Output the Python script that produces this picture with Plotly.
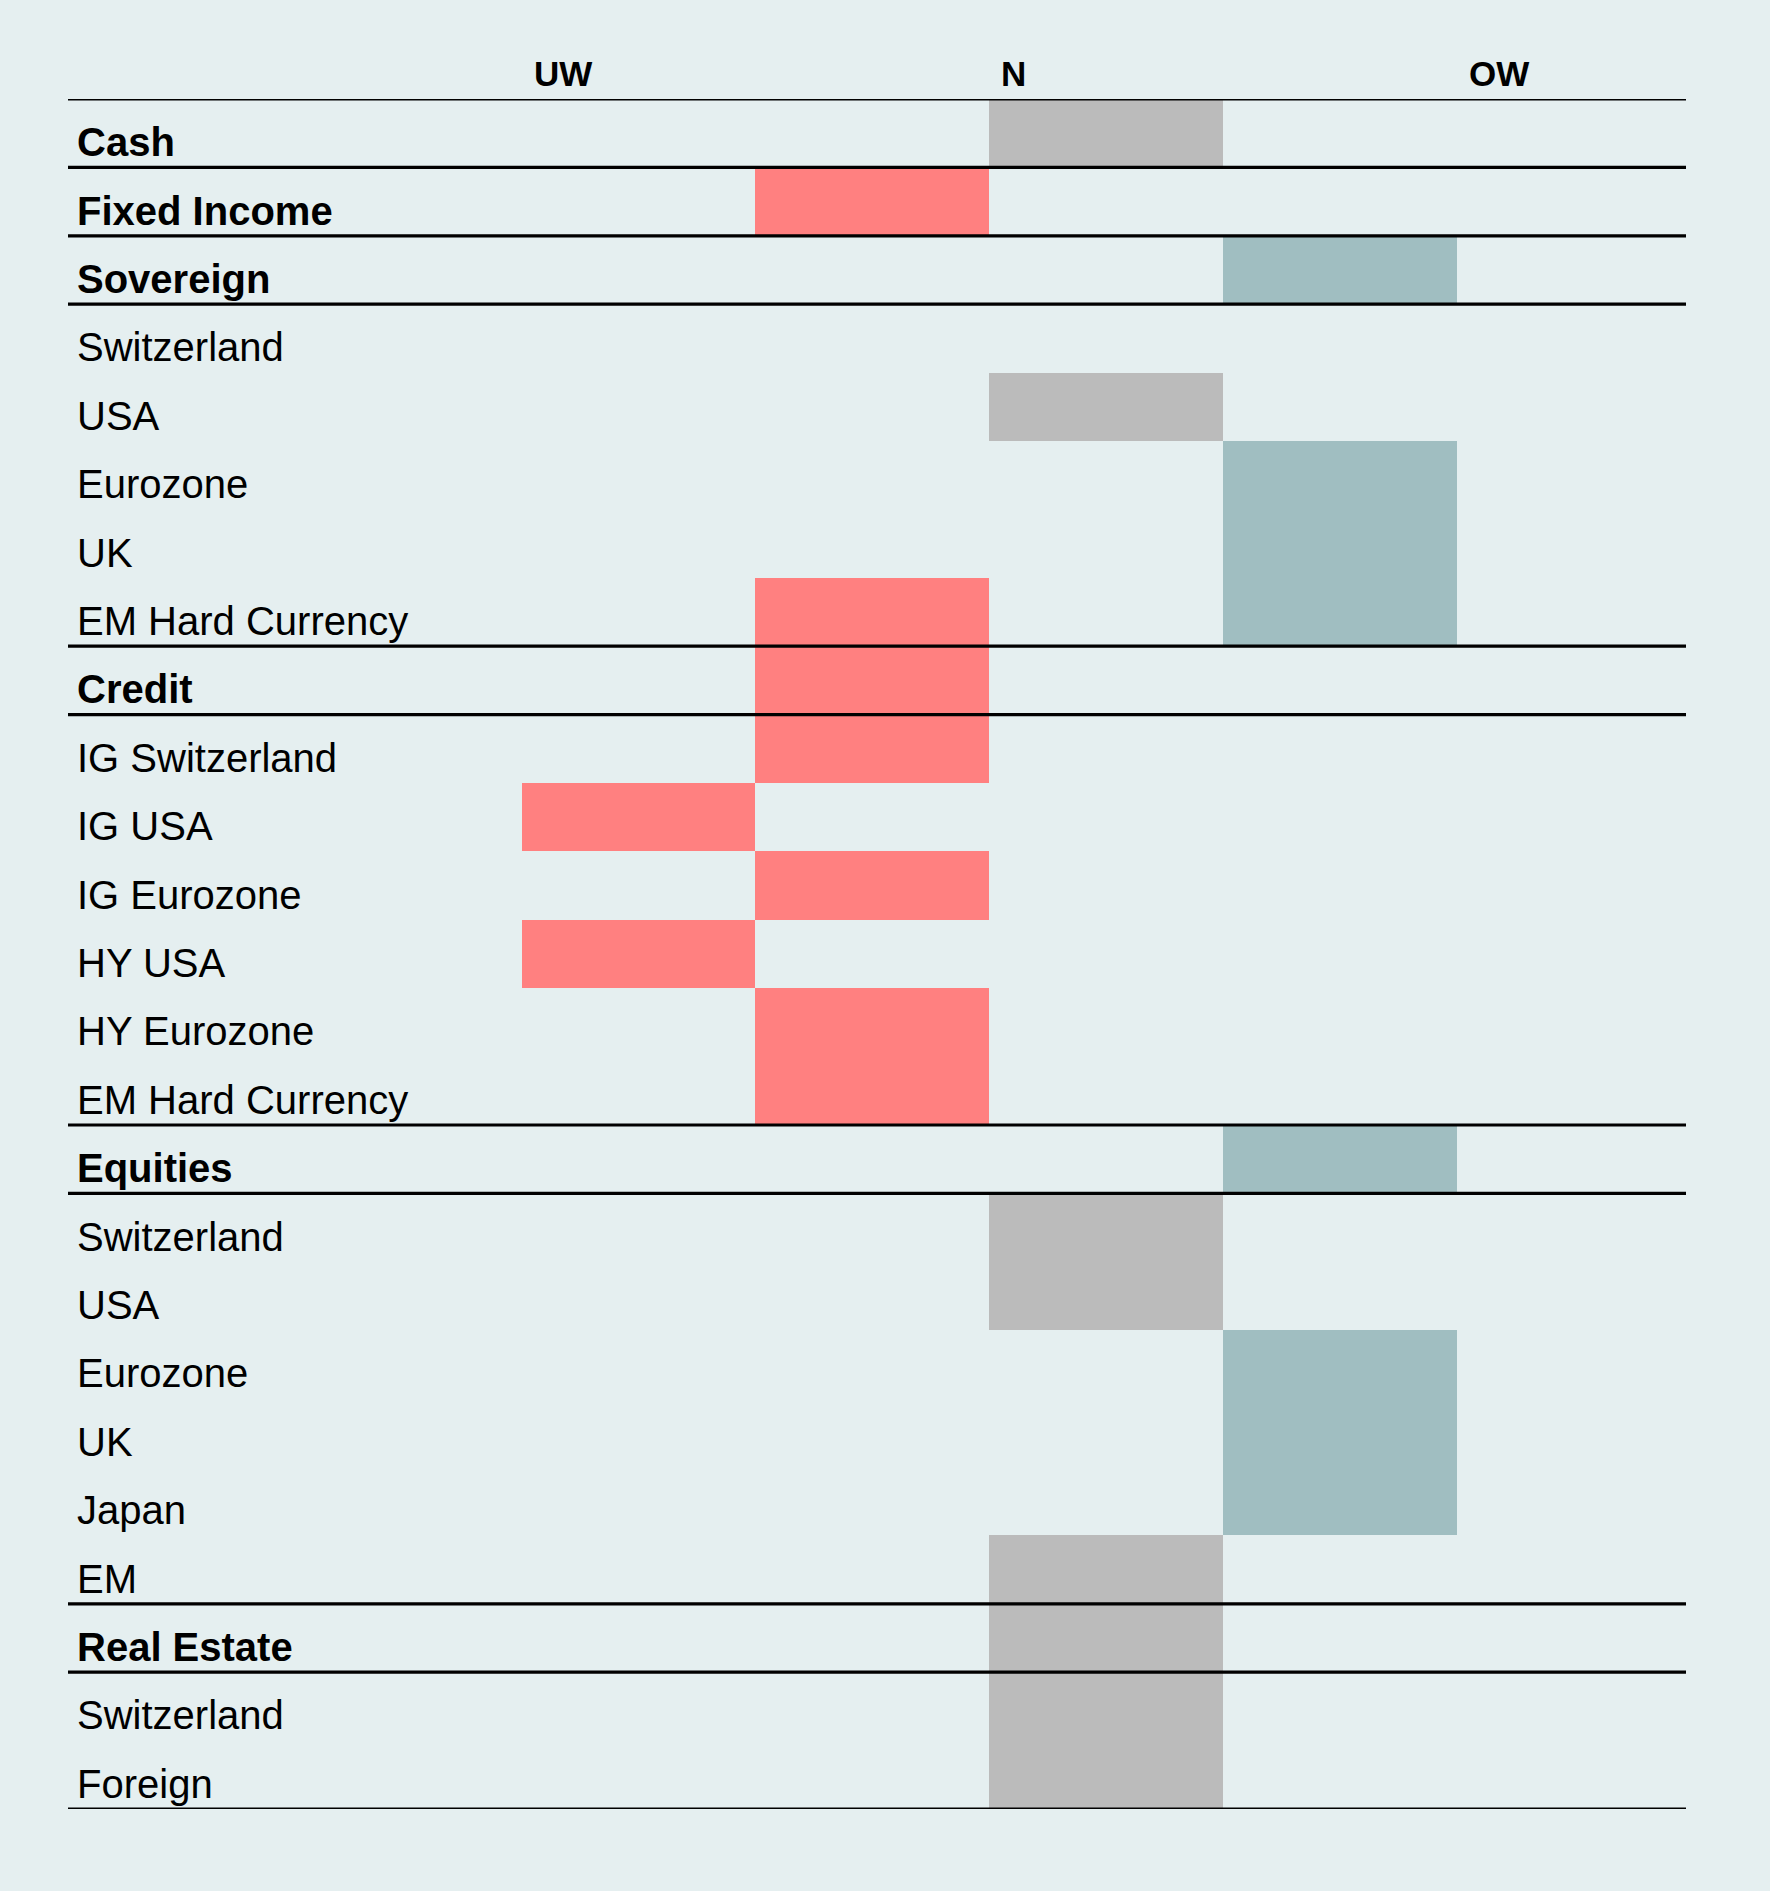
import plotly.graph_objects as go

# ---- data ----
labels = ["Cash", "Fixed Income", "Sovereign", "Switzerland", "USA", "Eurozone", "UK",
          "EM Hard Currency", "Credit", "IG Switzerland", "IG USA", "IG Eurozone", "HY USA",
          "HY Eurozone", "EM Hard Currency", "Equities", "Switzerland", "USA", "Eurozone",
          "UK", "Japan", "EM", "Real Estate", "Switzerland", "Foreign"]
is_heading = [True, True, True, False, False, False, False,
              False, True, False, False, False, False,
              False, False, True, False, False, False,
              False, False, False, True, False, False]
# positions per row: -2 .. +2 (UW .. OW); a row may carry several marks
positions = [[0], [-1], [1], [], [0], [1], [1],
             [-1, 1], [-1], [-1], [-2], [-1], [-2],
             [-1], [-1], [1], [0], [0], [1],
             [1], [1], [0], [0], [0], [0]]
# rows after which a separator rule is drawn (index of the row above the rule)
rule_after = [0, 1, 2, 7, 8, 14, 15, 21, 22, 24]
header_labels = ["UW", "N", "OW"]
header_pos = [-2.5, -0.5, 1.5]

# ---- style ----
BG = "#E5EFF0"
RED = "#FF8080"
GREY = "#BBBBBB"
TEAL = "#A0BEC1"
FONT = "Liberation Sans, Arial, sans-serif"

def colour(p):
    return RED if p < 0 else (GREY if p == 0 else TEAL)

ys, bases, cols = [], [], []
for i, plist in enumerate(positions):
    for p in plist:
        ys.append(i)
        bases.append(p - 0.5)
        cols.append(colour(p))

fig = go.Figure()
fig.add_trace(go.Bar(
    y=ys, x=[1] * len(ys), base=bases, orientation="h", width=1,
    marker=dict(color=cols, line=dict(width=0)),
    hoverinfo="skip", showlegend=False,
))

n = len(labels)
shapes = [dict(type="line", xref="paper", yref="y", x0=0, x1=1, y0=-0.5, y1=-0.5,
               line=dict(color="black", width=3.2), layer="above")]
for r in rule_after:
    shapes.append(dict(type="line", xref="paper", yref="y", x0=0, x1=1,
                       y0=r + 0.5, y1=r + 0.5,
                       line=dict(color="black", width=3.2), layer="above"))

annotations = []
for i, (lab, hd) in enumerate(zip(labels, is_heading)):
    annotations.append(dict(
        x=0, xref="paper", y=i, yref="y", xanchor="left", yanchor="middle",
        xshift=7, yshift=-9, showarrow=False,
        text=f"<b>{lab}</b>" if hd else lab,
        font=dict(family=FONT, size=40, color="black"),
    ))
for h, hx in zip(header_labels, header_pos):
    annotations.append(dict(
        x=hx, xref="x", y=-0.5, yref="y", xanchor="left", yanchor="bottom",
        xshift=10, yshift=4, showarrow=False,
        text=f"<b>{h}</b>",
        font=dict(family=FONT, size=35, color="black"),
    ))

fig.update_layout(
    width=1770, height=1891,
    paper_bgcolor=BG, plot_bgcolor=BG,
    margin=dict(l=68, r=84, t=99, b=82),
    xaxis=dict(range=[-4.44, 2.48], visible=False, fixedrange=True),
    yaxis=dict(range=[n - 0.5, -0.5], visible=False, fixedrange=True),
    shapes=shapes, annotations=annotations,
    bargap=0, showlegend=False,
)

fig.write_html(
    "out.html",
    config={"displayModeBar": False},
    post_script=(
        "document.body.style.margin='0';"
        "document.body.style.padding='0';"
        "document.body.style.background='" + BG + "';"
    ),
)
